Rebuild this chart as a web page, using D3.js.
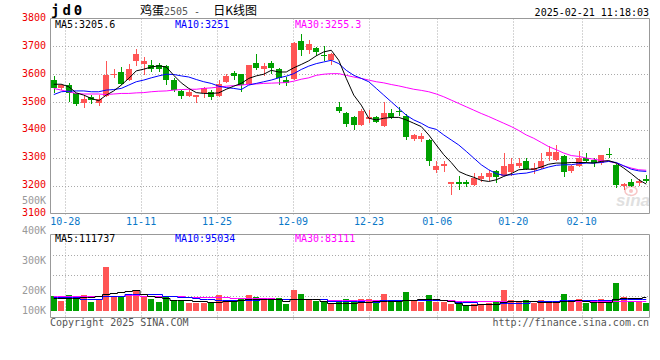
<!DOCTYPE html>
<html>
<head>
<meta charset="utf-8">
<script src="https://cdnjs.cloudflare.com/ajax/libs/d3/7.8.5/d3.min.js"></script>
<style>
body { margin: 0; background: #fff; }
svg text { font-family: "DejaVu Sans Mono", "Liberation Mono", monospace; font-size: 10px; }
</style>
</head>
<body>
<script>
// trading days on the chart
var dates = ["10-24","10-25","10-28","10-29","10-30","10-31","11-01","11-04","11-05","11-06",
  "11-07","11-08","11-11","11-12","11-13","11-14","11-15","11-18","11-19","11-20",
  "11-21","11-22","11-25","11-26","11-27","11-28","11-29","12-02","12-03","12-04",
  "12-05","12-06","12-09","12-10","12-11","12-12","12-13","12-16","12-17","12-18",
  "12-19","12-20","12-23","12-24","12-25","12-26","12-27","12-30","12-31","01-02",
  "01-03","01-06","01-07","01-08","01-09","01-10","01-13","01-14","01-15","01-16",
  "01-17","01-20","01-21","01-22","01-23","01-24","01-27","02-05","02-06","02-07",
  "02-10","02-11","02-12","02-13","02-14","02-17","02-18","02-19","02-20","02-21"];

var openP = [3581,3552,3561,3531,3495,3519,3498,3523,3596,3608,
  3581,3646,3636,3632,3632,3629,3581,3540,3523,3519,
  3531,3537,3523,3573,3605,3600,3564,3640,3618,3640,
  3620,3579,3584,3721,3686,3695,3668,3652,3483,3462,
  3448,3418,3441,3445,3414,3460,3469,3450,3367,3367,
  3364,3257,3271,3207,3214,3212,3204,3224,3230,3251,
  3236,3248,3271,3289,3257,3263,3307,3293,3307,3251,
  3269,3299,3293,3281,3313,3275,3200,3212,3209,3224];
var highP = [3593,3566,3569,3533,3525,3525,3525,3646,3618,3626,
  3638,3689,3660,3650,3640,3632,3585,3545,3543,3527,
  3555,3545,3579,3602,3612,3602,3634,3671,3640,3647,
  3624,3590,3715,3745,3724,3698,3700,3676,3501,3465,
  3450,3474,3471,3450,3501,3475,3481,3457,3386,3390,
  3367,3287,3289,3212,3236,3219,3245,3247,3257,3257,
  3317,3299,3301,3301,3281,3317,3343,3346,3311,3275,
  3323,3317,3299,3311,3334,3279,3209,3224,3224,3239];
var lowP = [3531,3543,3501,3486,3480,3493,3486,3519,3585,3561,
  3576,3630,3596,3608,3608,3561,3537,3511,3519,3497,
  3513,3507,3519,3569,3579,3537,3561,3614,3594,3600,
  3561,3558,3581,3664,3671,3664,3648,3632,3462,3412,
  3400,3414,3424,3426,3412,3438,3450,3364,3362,3358,
  3271,3245,3248,3168,3186,3195,3200,3212,3215,3209,
  3233,3233,3263,3255,3243,3259,3287,3287,3231,3245,
  3267,3281,3267,3275,3299,3192,3183,3195,3198,3209];
var closeP = [3551,3560,3531,3493,3511,3507,3511,3596,3602,3564,
  3620,3674,3646,3620,3620,3579,3545,3523,3537,3527,
  3549,3519,3564,3593,3594,3561,3632,3623,3629,3623,
  3588,3570,3713,3686,3710,3680,3665,3671,3469,3421,
  3418,3469,3445,3430,3460,3445,3463,3374,3382,3379,
  3287,3271,3277,3212,3207,3206,3227,3233,3245,3230,
  3269,3277,3283,3259,3265,3287,3322,3319,3248,3269,
  3299,3290,3281,3311,3309,3204,3206,3198,3215,3215];

var volume = [120000,83000,128000,106000,128000,72000,98000,365000,120000,126000,
  128000,172000,126000,98000,72000,112000,92000,78000,64000,64000,
  64000,64000,128000,92000,78000,98000,134000,114000,87000,92000,
  106000,56000,172000,139000,98000,83000,72000,64000,83000,98000,
  83000,98000,98000,72000,139000,83000,72000,156000,83000,72000,
  128000,72000,72000,56000,56000,42000,56000,56000,64000,72000,
  172000,92000,72000,92000,64000,92000,83000,72000,139000,83000,
  98000,64000,72000,98000,92000,231000,114000,78000,78000,64000];

var ma5 = [3564,3564,3555,3533,3525,3513,3505,3525,3540,3561,
  3585,3612,3618,3626,3630,3626,3596,3569,3549,3534,
  3531,3531,3533,3546,3557,3567,3585,3594,3600,3614,
  3608,3608,3623,3635,3648,3666,3680,3686,3650,3585,
  3525,3489,3442,3436,3442,3445,3445,3436,3424,3412,
  3382,3346,3311,3283,3251,3239,3230,3219,3215,3221,
  3233,3243,3257,3259,3259,3267,3277,3281,3281,3283,
  3283,3283,3281,3287,3290,3281,3263,3243,3221,3205.6];
var ma10 = [3527,3537,3539,3540,3540,3537,3537,3543,3545,3549,
  3561,3573,3579,3587,3594,3600,3599,3594,3590,3581,
  3573,3567,3557,3552,3549,3545,3561,3567,3573,3579,
  3587,3593,3602,3617,3629,3638,3644,3650,3638,3614,
  3596,3585,3573,3549,3525,3501,3477,3453,3436,3424,
  3409,3402,3382,3364,3346,3323,3299,3275,3257,3243,
  3237,3239,3243,3245,3251,3259,3267,3273,3275,3275,
  3279,3281,3281,3283,3287,3283,3271,3259,3253,3251];
var ma30 = [3549,3543,3537,3531,3529,3529,3529,3527,3529,3531,
  3531,3533,3534,3537,3539,3540,3543,3545,3546,3546,
  3549,3551,3554,3557,3559,3561,3564,3565,3567,3568,
  3569,3570,3575,3582,3587,3596,3600,3602,3602,3596,
  3590,3585,3579,3573,3569,3563,3558,3552,3546,3542,
  3537,3529,3519,3507,3495,3483,3471,3459,3448,3436,
  3424,3412,3398,3382,3370,3355,3340,3329,3317,3308,
  3305,3299,3295,3290,3287,3281,3271,3263,3257,3255.3];

var volMa5 = [106000,106000,108000,106000,112000,112000,125000,142000,145000,156000,
  167000,170000,140000,120000,118000,106000,92000,92000,88000,85000,
  78000,75000,72000,83000,83000,92000,95000,98000,98000,98000,
  96000,83000,98000,100000,98000,98000,78000,68000,66000,66000,
  66000,70000,75000,78000,80000,83000,83000,92000,92000,95000,
  98000,98000,92000,78000,64000,45000,45000,52000,56000,56000,
  72000,78000,83000,83000,83000,72000,72000,72000,85000,85000,
  87000,80000,75000,72000,72000,98000,106000,108000,108000,111737];
var volMa10 = [114000,114000,114000,114000,98000,98000,98000,120000,120000,125000,
  137000,137000,137000,137000,137000,125000,125000,112000,112000,105000,
  98000,98000,92000,92000,90000,90000,92000,92000,94000,96000,
  100000,100000,100000,100000,100000,100000,95000,80000,78000,78000,
  78000,78000,74000,74000,87000,87000,87000,87000,87000,87000,
  87000,87000,87000,80000,74000,72000,72000,55000,55000,55000,
  64000,64000,64000,64000,78000,78000,78000,78000,87000,87000,
  87000,87000,87000,87000,87000,95000,98000,98000,96000,95034];
var volMa30 = [123000,123000,123000,123000,123000,123000,123000,125000,125000,125000,
  135000,135000,125000,125000,125000,125000,125000,125000,114000,114000,
  114000,114000,114000,114000,106000,106000,106000,106000,106000,106000,
  100000,100000,100000,100000,100000,100000,100000,88000,88000,88000,
  88000,88000,88000,88000,90000,90000,90000,90000,90000,90000,
  90000,90000,90000,90000,79000,79000,79000,79000,79000,79000,
  79000,79000,79000,79000,79000,79000,79000,79000,79000,79000,
  79000,79000,79000,79000,79000,83000,83000,83000,83000,83111];

var dateTicks = ["10-28","11-11","11-25","12-09","12-23","01-06","01-20","02-10"];
var priceTicks = [3800,3700,3600,3500,3400,3300,3200,3100];
var volTicks = [500000,400000,300000,200000,100000];

// layout
var width = 660, height = 360;
var left = 50, right = 650;
var priceTop = 18.5, priceBottom = 213.5;
var volTop = 234.5, volBottom = 317.5, volBase = 310.7;
var upColor = "#ff5555", downColor = "#00a000";
var gridColor = "#aaa", frameColor = "#999";

var svg = d3.select("body").append("svg")
    .attr("width", width)
    .attr("height", height);

svg.append("rect").attr("width", width).attr("height", height).attr("fill", "#fff");

var idx = d3.range(dates.length);

// candles sit in bands, the date grid uses evenly spread points
var x = d3.scaleBand().domain(idx).range([left, right]).paddingInner(0.2).paddingOuter(0.1);
var xGrid = d3.scalePoint().domain(dates).range([left, right]);
var yPrice = d3.scaleLinear().domain([3100, 3800]).range([priceBottom, priceTop]);
var yVol = d3.scaleLinear().domain([0, 640000]).range([volBase, 234]);
var yVolLabel = d3.scaleLinear().domain([200000, 500000]).range([290, 200.5]);

function cx(i) { return Math.round(x(i)) + 3; }
function isUp(i) { return closeP[i] >= openP[i]; }

// ---- titles
svg.append("text")
    .attr("x", 51).attr("y", 15)
    .style("font-size", "14px").style("font-weight", "bold")
    .attr("letter-spacing", 3)
    .text("jd0");

var title = svg.append("text")
    .attr("x", 140).attr("y", 14.5)
    .attr("xml:space", "preserve")
    .attr("fill", "#000");
title.append("tspan").style("font-family", "'Noto Sans CJK SC'").style("font-size", "12px").text("鸡蛋");
title.append("tspan").attr("fill", "#555").text("2505 - ");
title.append("tspan").attr("dx", 7).style("font-family", "'Noto Sans CJK SC'").style("font-size", "12px").text("日K线图");

svg.append("text")
    .attr("x", 649).attr("y", 15.5)
    .attr("text-anchor", "end")
    .text("2025-02-21 11:18:03");

// ---- watermark
var wm = svg.append("g").attr("opacity", 0.45);
wm.append("ellipse").attr("cx", 631).attr("cy", 191).attr("rx", 6).attr("ry", 4.5)
    .attr("fill", "none").attr("stroke", "#f08080").attr("stroke-width", 1.5);
wm.append("circle").attr("cx", 631).attr("cy", 191).attr("r", 2).attr("fill", "#f08080");
wm.append("text")
    .attr("x", 650).attr("y", 206)
    .attr("text-anchor", "end")
    .style("font-family", "'Liberation Sans', Arial, sans-serif")
    .style("font-size", "17px").style("font-weight", "bold").style("font-style", "italic")
    .attr("fill", "#bbb")
    .text("sina");

// ---- price grid
var priceGrid = svg.append("g");
priceGrid.selectAll("line.h")
    .data(priceTicks.slice(1, -1))
    .enter().append("line")
    .attr("class", "h")
    .attr("x1", left).attr("x2", right)
    .attr("y1", function(d) { return Math.round(yPrice(d)) + 0.5; })
    .attr("y2", function(d) { return Math.round(yPrice(d)) + 0.5; })
    .attr("stroke", gridColor).attr("stroke-dasharray", "1,2");
priceGrid.selectAll("line.v")
    .data(dateTicks)
    .enter().append("line")
    .attr("class", "v")
    .attr("x1", function(d) { return Math.round(xGrid(d)) + 0.5; })
    .attr("x2", function(d) { return Math.round(xGrid(d)) + 0.5; })
    .attr("y1", priceTop).attr("y2", priceBottom + 2)
    .attr("stroke", gridColor).attr("stroke-dasharray", "1,2");

// ---- volume grid
var volGrid = svg.append("g");
volGrid.selectAll("line.h")
    .data([1, 2, 3])
    .enter().append("line")
    .attr("class", "h")
    .attr("x1", left).attr("x2", right)
    .attr("y1", function(k) { return Math.round(234 + k * 20.5) + 0.5; })
    .attr("y2", function(k) { return Math.round(234 + k * 20.5) + 0.5; })
    .attr("stroke", gridColor).attr("stroke-dasharray", "1,2");
volGrid.selectAll("line.v")
    .data(dateTicks)
    .enter().append("line")
    .attr("class", "v")
    .attr("x1", function(d) { return Math.round(xGrid(d)) + 0.5; })
    .attr("x2", function(d) { return Math.round(xGrid(d)) + 0.5; })
    .attr("y1", volTop).attr("y2", volBottom + 2)
    .attr("stroke", gridColor).attr("stroke-dasharray", "1,2");

// ---- candles
var candles = svg.append("g").selectAll("g")
    .data(idx)
    .enter().append("g");

candles.append("line")
    .attr("x1", function(i) { return cx(i) + 0.5; })
    .attr("x2", function(i) { return cx(i) + 0.5; })
    .attr("y1", function(i) { return Math.round(yPrice(highP[i])); })
    .attr("y2", function(i) { return Math.round(yPrice(lowP[i])); })
    .attr("stroke", function(i) { return isUp(i) ? upColor : downColor; });

candles.append("rect")
    .attr("x", function(i) { return Math.round(x(i)); })
    .attr("width", Math.round(x.bandwidth()))
    .attr("y", function(i) { return Math.round(yPrice(Math.max(openP[i], closeP[i]))); })
    .attr("height", function(i) {
        return Math.max(1, Math.round(yPrice(Math.min(openP[i], closeP[i]))) - Math.round(yPrice(Math.max(openP[i], closeP[i]))));
    })
    .attr("fill", function(i) { return isUp(i) ? upColor : downColor; });

// ---- price moving averages
var maLine = function(arr) {
    return d3.line()
        .x(function(d, i) { return x(i) + x.bandwidth() / 2; })
        .y(function(d) { return yPrice(d); })(arr);
};
[[ma30, "#f0f"], [ma10, "#00f"], [ma5, "#000"]].forEach(function(m) {
    svg.append("path")
        .attr("d", maLine(m[0]))
        .attr("fill", "none")
        .attr("stroke", m[1])
        .attr("stroke-width", 1);
});

// ---- volume bars
svg.append("g").selectAll("rect")
    .data(idx)
    .enter().append("rect")
    .attr("x", function(i) { return Math.round(x(i)); })
    .attr("width", Math.round(x.bandwidth()))
    .attr("y", function(i) { return Math.round(yVol(volume[i])); })
    .attr("height", function(i) { return Math.round(yVol(0)) - Math.round(yVol(volume[i])); })
    .attr("fill", function(i) { return isUp(i) ? upColor : downColor; });

var volLine = function(arr) {
    return d3.line()
        .curve(d3.curveStep)
        .x(function(d, i) { return x(i) + x.bandwidth() / 2; })
        .y(function(d) { return Math.round(yVol(d)) + 0.5; })(arr);
};
[[volMa30, "#f0f"], [volMa10, "#00f"], [volMa5, "#000"]].forEach(function(m) {
    svg.append("path")
        .attr("d", volLine(m[0]))
        .attr("fill", "none")
        .attr("stroke", m[1])
        .attr("stroke-width", 1);
});

// ---- frames
svg.append("path")
    .attr("d", "M" + (left + 0.5) + "," + priceTop + "H" + (right - 0.5) + "V" + priceBottom + "H" + (left + 0.5) + "Z")
    .attr("fill", "none").attr("stroke", frameColor);
svg.append("path")
    .attr("d", "M" + (left + 0.5) + "," + volTop + "H" + (right - 0.5) + "V" + volBottom + "H" + (left + 0.5) + "Z")
    .attr("fill", "none").attr("stroke", frameColor);

// ---- price axis labels
var yAxis = d3.axisLeft(yPrice).tickValues(priceTicks).tickFormat(d3.format("d")).tickSize(0).tickPadding(4);
var yAxisG = svg.append("g")
    .attr("transform", "translate(" + left + ",0)")
    .call(yAxis);
yAxisG.select(".domain").remove();
yAxisG.selectAll("text")
    .attr("dy", "0.2em")
    .attr("fill", "#e00")
    .style("font-family", "'DejaVu Sans Mono', monospace")
    .style("font-size", "10px");

// ---- volume axis labels
svg.append("g").selectAll("text")
    .data(volTicks)
    .enter().append("text")
    .attr("x", 46)
    .attr("y", function(d) { return Math.min(yVolLabel(d), 310); })
    .attr("dy", "0.35em")
    .attr("text-anchor", "end")
    .attr("fill", "#999")
    .text(function(d) { return (d / 1000) + "K"; });

// ---- date labels
svg.append("g").selectAll("text")
    .data(dateTicks)
    .enter().append("text")
    .attr("x", function(d) { return xGrid(d); })
    .attr("y", 221.7)
    .attr("dy", "0.35em")
    .attr("text-anchor", "middle")
    .attr("fill", "#0a78c8")
    .text(function(d) { return d; });

// ---- legends
function legend(y, items) {
    svg.append("g").selectAll("text")
        .data(items)
        .enter().append("text")
        .attr("x", function(d) { return d.x; })
        .attr("y", y)
        .attr("dy", "0.35em")
        .attr("fill", function(d) { return d.color; })
        .text(function(d) { return d.label; });
}
var last = dates.length - 1;
legend(24, [
    {x: 55, color: "#000", label: "MA5:" + ma5[last]},
    {x: 175, color: "#00f", label: "MA10:" + ma10[last]},
    {x: 295, color: "#f0f", label: "MA30:" + ma30[last]}
]);
legend(238.5, [
    {x: 55, color: "#000", label: "MA5:" + volMa5[last]},
    {x: 175, color: "#00f", label: "MA10:" + volMa10[last]},
    {x: 295, color: "#f0f", label: "MA30:" + volMa30[last]}
]);

// ---- footer
svg.append("text")
    .attr("x", 50).attr("y", 326)
    .attr("fill", "#555")
    .text("Copyright 2025 SINA.COM");
svg.append("text")
    .attr("x", 649).attr("y", 326)
    .attr("text-anchor", "end")
    .attr("fill", "#555")
    .text("http://finance.sina.com.cn");
</script>
</body>
</html>
